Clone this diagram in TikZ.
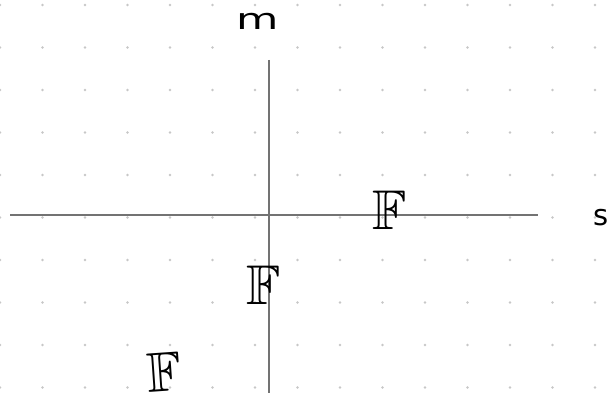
\documentclass[tikz,border=0pt]{standalone}
\usepackage{amssymb}
\usepackage{fontspec}
\setmainfont{DejaVu Sans}
\tikzset{
  griddot/.style={fill=black!22, draw=none},
  axis/.style={draw=black!55, line width=2pt},
  hand/.style={text=black, inner sep=0pt, font=\fontsize{29}{29}\selectfont},
  bbf/.style={text=black, inner sep=0pt, font=\fontsize{56}{56}\selectfont},
}
\begin{document}
\begin{tikzpicture}[x=1pt,y=-1pt]
\useasboundingbox[fill=white] (0,0) rectangle (610,393);
\foreach \i in {0,...,14}{
  \foreach \j in {0,...,9}{
    \fill[griddot] (42.5*\i,5+42.5*\j) circle (1.4);
  }
}
\coordinate (hl) at (10,215);
\coordinate (hr) at (538,215);
\coordinate (vt) at (269.3,60);
\coordinate (vb) at (269.3,393);
\draw[axis] (hl) -- (hr);
\draw[axis] (vt) -- (vb);
\node[hand, xscale=1.5] (m) at (258,21) {m};
\node[hand] (s) at (601,218) {s};
\node[bbf] (f1) at (390,210) {$\mathbb{F}$};
\node[bbf] (f2) at (264,285) {$\mathbb{F}$};
\node[bbf, rotate=4] (f3) at (164,372) {$\mathbb{F}$};
\end{tikzpicture}
\end{document}
